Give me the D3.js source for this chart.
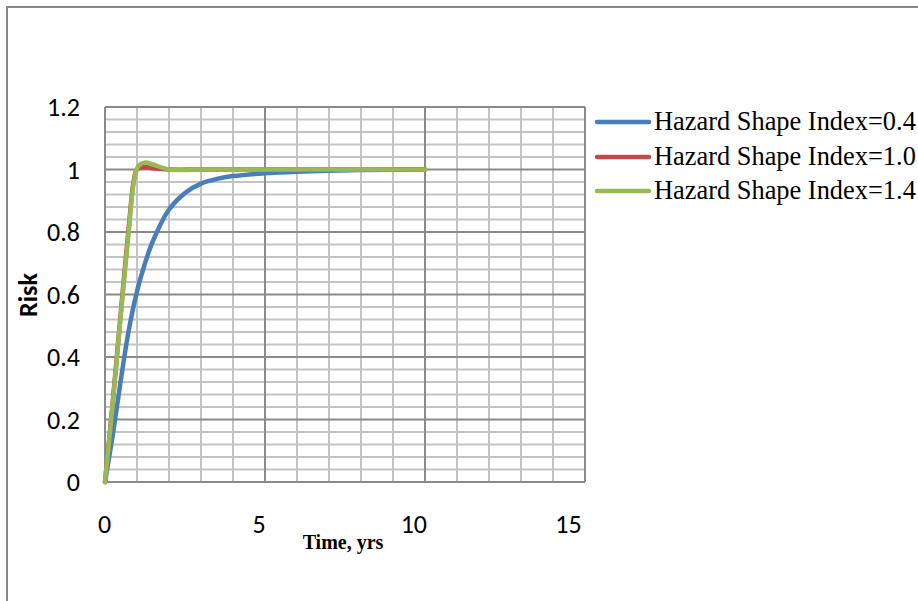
<!DOCTYPE html>
<html>
<head>
<meta charset="utf-8">
<script src="https://cdn.jsdelivr.net/npm/d3@7"></script>
<style>
  html, body { margin: 0; padding: 0; background: #fff; }
  svg { display: block; }
  .serif { font-family: "Liberation Serif", "Times New Roman", "DejaVu Serif", serif; }
  .sans { font-family: Carlito, Calibri, Lato, sans-serif; }
</style>
</head>
<body>
<svg id="chart" width="918" height="601"></svg>
<script>
// Risk over time for three hazard shape indices
const seriesNames = ["Hazard Shape Index=0.4", "Hazard Shape Index=1.0", "Hazard Shape Index=1.4"];
const seriesColors = ["#4a7ebb", "#be4b48", "#98b954"];

const timeIdx04 = [0, 0.25, 0.5, 0.75, 1, 1.25, 1.5, 2, 2.5, 3, 3.5, 4, 5, 6, 7, 8, 9, 10];
const riskIdx04 = [0, 0.155, 0.33, 0.49, 0.61, 0.70, 0.772, 0.872, 0.925, 0.955, 0.97, 0.979, 0.988, 0.993, 0.996, 0.998, 0.999, 1.0];

const timeIdx10 = [0, 0.25, 0.5, 0.75, 0.9, 1.0, 1.2, 1.5, 2, 3, 4, 5, 6, 7, 8, 9, 10];
const riskIdx10 = [0, 0.265, 0.55, 0.825, 0.965, 1.0, 1.008, 1.004, 1.0, 1.0, 1.0, 1.0, 1.0, 1.0, 1.0, 1.0, 1.0];

const timeIdx14 = [0, 0.25, 0.5, 0.75, 0.9, 1.05, 1.25, 1.5, 1.75, 2, 3, 4, 5, 6, 7, 8, 9, 10];
const riskIdx14 = [0, 0.26, 0.54, 0.81, 0.96, 1.012, 1.022, 1.016, 1.007, 1.0, 1.0, 1.0, 1.0, 1.0, 1.0, 1.0, 1.0, 1.0];

const xTicks = [0, 5, 10, 15];
const yTicks = [0, 0.2, 0.4, 0.6, 0.8, 1, 1.2];
const xTitle = "Time, yrs";
const yTitle = "Risk";

const svg = d3.select("#chart");
const plot = { left: 105, top: 107, right: 585, bottom: 482 };

const x = d3.scaleLinear().domain([0, 15]).range([plot.left, plot.right]);
const y = d3.scaleLinear().domain([0, 1.2]).range([plot.bottom, plot.top]);
// tick labels sit on a slightly narrower span than the plot frame
const xLabel = d3.scaleLinear().domain([0, 15]).range([104, 568]);

// outer chart frame
svg.append("rect")
  .attr("x", 7).attr("y", 7).attr("width", 1000).attr("height", 700)
  .attr("fill", "#fff").attr("stroke", "#888").attr("stroke-width", 2);

// minor grid
const grid = svg.append("g");
const minorX = d3.range(0, 16).filter(v => v % 5 !== 0);
const minorY = d3.range(0, 31).filter(i => i % 5 !== 0).map(i => i * 0.04);
grid.selectAll("line.mx").data(minorX).join("line")
  .attr("x1", d => x(d)).attr("x2", d => x(d))
  .attr("y1", plot.top).attr("y2", plot.bottom)
  .attr("stroke", "#c3c3c3").attr("stroke-width", 2);
grid.selectAll("line.my").data(minorY).join("line")
  .attr("y1", d => y(d)).attr("y2", d => y(d))
  .attr("x1", plot.left).attr("x2", plot.right)
  .attr("stroke", "#c3c3c3").attr("stroke-width", 2);
// major grid
grid.selectAll("line.Mx").data(xTicks).join("line")
  .attr("x1", d => x(d)).attr("x2", d => x(d))
  .attr("y1", plot.top).attr("y2", plot.bottom)
  .attr("stroke", "#8a8a8a").attr("stroke-width", 2);
grid.selectAll("line.My").data(yTicks).join("line")
  .attr("y1", d => y(d)).attr("y2", d => y(d))
  .attr("x1", plot.left).attr("x2", plot.right)
  .attr("stroke", "#8a8a8a").attr("stroke-width", 2);

// axis tick labels
const yAxis = svg.append("g")
  .attr("transform", "translate(80,0)")
  .call(d3.axisLeft(y).tickValues(yTicks).tickSize(0).tickPadding(0).tickFormat(d3.format("~g")));
yAxis.select(".domain").remove();
yAxis.attr("font-family", null).attr("font-size", null);
yAxis.selectAll("text").attr("class", "sans").attr("font-size", 26).attr("fill", "#000").attr("dy", "0.33em");

const xAxis = svg.append("g")
  .attr("transform", "translate(0,533)")
  .call(d3.axisBottom(xLabel).tickValues(xTicks).tickSize(0).tickPadding(0).tickFormat(d3.format("~g")));
xAxis.select(".domain").remove();
xAxis.attr("font-family", null).attr("font-size", null);
xAxis.selectAll("text").attr("class", "sans").attr("font-size", 26).attr("fill", "#000").attr("dy", 0).attr("y", 0);

// axis titles
svg.append("text")
  .attr("class", "serif")
  .attr("x", 343).attr("y", 549)
  .attr("text-anchor", "middle")
  .attr("font-weight", "bold").attr("font-size", 20)
  .text(xTitle);

svg.append("text")
  .attr("class", "sans")
  .attr("transform", "translate(36.5,295) rotate(-90)")
  .attr("text-anchor", "middle")
  .attr("font-weight", "bold").attr("font-size", 26)
  .text(yTitle);

// curves
const seriesData = [
  timeIdx04.map((t, i) => [t, riskIdx04[i]]),
  timeIdx10.map((t, i) => [t, riskIdx10[i]]),
  timeIdx14.map((t, i) => [t, riskIdx14[i]])
];
const line = d3.line().x(d => x(d[0])).y(d => y(d[1])).curve(d3.curveCatmullRom.alpha(0.5));
svg.append("g").selectAll("path").data(seriesData).join("path")
  .attr("d", line)
  .attr("fill", "none")
  .attr("stroke", (d, i) => seriesColors[i])
  .attr("stroke-width", 4.5)
  .attr("stroke-linecap", "round")
  .attr("stroke-linejoin", "round");

// legend
const legend = svg.append("g");
const rowY = [122, 157, 191];
seriesNames.forEach((name, i) => {
  legend.append("line")
    .attr("x1", 597).attr("x2", 649)
    .attr("y1", rowY[i]).attr("y2", rowY[i])
    .attr("stroke", seriesColors[i]).attr("stroke-width", 4.5)
    .attr("stroke-linecap", "round");
  legend.append("text")
    .attr("class", "serif")
    .attr("x", 654).attr("y", rowY[i] + 8)
    .attr("font-size", 26.4).attr("fill", "#000")
    .text(name);
});
</script>
</body>
</html>
